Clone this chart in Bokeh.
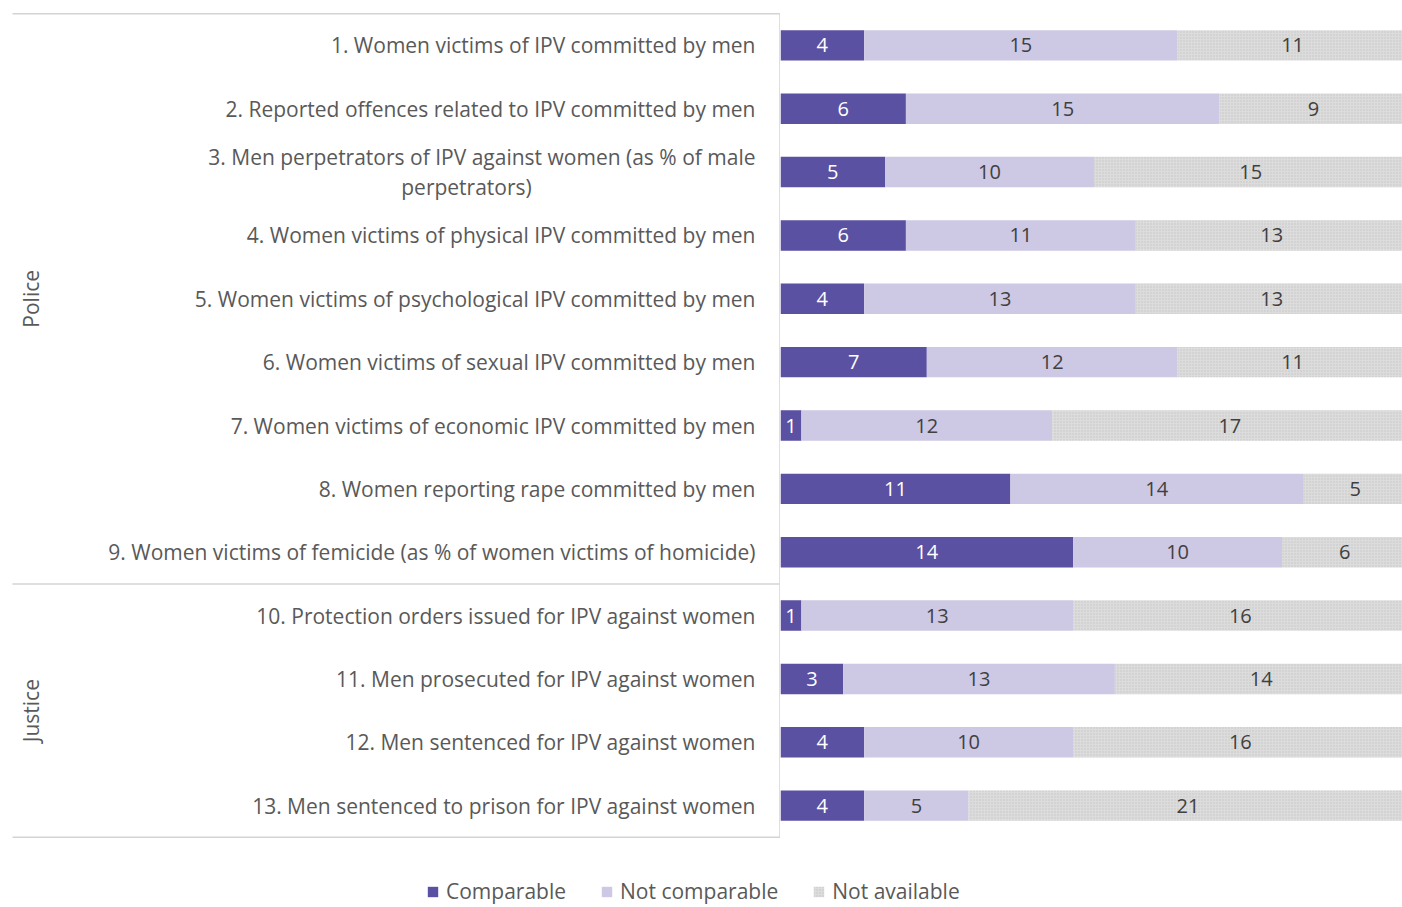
import math
from bokeh.plotting import figure
from bokeh.layouts import column, row
from bokeh.models import ColumnDataSource, Range1d, Legend, LegendItem
from bokeh.core.properties import value
from bokeh.embed import file_html
from bokeh.resources import INLINE

categories = [
    "1. Women victims of IPV committed by men",
    "2. Reported offences related to IPV committed by men",
    "3. Men perpetrators of IPV against women (as % of male\nperpetrators)",
    "4. Women victims of physical IPV committed by men",
    "5. Women victims of psychological IPV committed by men",
    "6. Women victims of sexual IPV committed by men",
    "7. Women victims of economic IPV committed by men",
    "8. Women reporting rape committed by men",
    "9. Women victims of femicide (as % of women victims of homicide)",
    "10. Protection orders issued for IPV against women",
    "11. Men prosecuted for IPV against women",
    "12. Men sentenced for IPV against women",
    "13. Men sentenced to prison for IPV against women",
]
group_names = ["Police", "Justice"]
group_sizes = [9, 4]
series_names = ["Comparable", "Not comparable", "Not available"]
comparable = [4, 6, 5, 6, 4, 7, 1, 11, 14, 1, 3, 4, 4]
not_comparable = [15, 15, 10, 11, 13, 12, 12, 14, 10, 13, 13, 10, 5]
not_available = [11, 9, 15, 13, 13, 11, 17, 5, 6, 16, 14, 16, 21]

colors = ["#5b51a2", "#cdc8e4", "#dcdcdc"]
label_colors = ["#ffffff", "#404040", "#404040"]
TXT = "#595959"
FONT = "Open Sans"
LBL_SIZE = "21px"

n = len(categories)
ys = [n - 0.5 - i for i in range(n)]
yr = Range1d(-0.05, n + 0.05)
H = 840
LW = 780

hatch = dict(hatch_pattern=".", hatch_color="#c6c6c6", hatch_scale=3, hatch_weight=1)

# ---------- right: bars ----------
p = figure(width=622, height=H, x_range=Range1d(0, 29.76), y_range=yr,
           output_backend="svg", toolbar_location=None,
           min_border_top=10, min_border_bottom=0, min_border_left=0, min_border_right=0)
p.xaxis.visible = False
p.yaxis.visible = False
p.grid.visible = False
p.outline_line_color = None

series = [comparable, not_comparable, not_available]
left = [0] * n
for k, vals in enumerate(series):
    right = [l + v for l, v in zip(left, vals)]
    src = ColumnDataSource(dict(y=ys, left=left, right=right,
                                xc=[(l + r) / 2 for l, r in zip(left, right)],
                                txt=[str(v) for v in vals]))
    kw = hatch if k == 2 else {}
    p.hbar(y="y", left="left", right="right", height=0.48, source=src,
           fill_color=colors[k], line_color=None, **kw)
    p.text(x="xc", y="y", text="txt", source=src, text_align="center",
           text_baseline="middle", text_font=value(FONT), text_font_size="20px",
           text_color=label_colors[k])
    left = right

# ---------- left: category labels ----------
q = figure(width=LW, height=H, x_range=Range1d(0, LW), y_range=yr,
           output_backend="svg", toolbar_location=None,
           min_border_top=10, min_border_bottom=0, min_border_left=0, min_border_right=0)
q.xaxis.visible = False
q.yaxis.visible = False
q.grid.visible = False
q.outline_line_color = None

txt_kw = dict(text_baseline="middle", text_font=value(FONT), text_font_size=LBL_SIZE,
              text_color=TXT)
single_x, single_y, single_t = [], [], []
for i, c in enumerate(categories):
    lines = c.split("\n")
    if len(lines) == 1:
        single_x.append(755); single_y.append(ys[i]); single_t.append(c)
    else:
        q.text(x=[755], y=[ys[i] + 0.235], text=[lines[0]], text_align="right", **txt_kw)
        q.text(x=[466], y=[ys[i] - 0.235], text=[lines[1]], text_align="center", **txt_kw)
q.text(x=single_x, y=single_y, text=single_t, text_align="right", **txt_kw)

# group separators and labels
bounds = [n]
for s in group_sizes:
    bounds.append(bounds[-1] - s)
q.segment(x0=[12] * len(bounds), y0=bounds, x1=[LW] * len(bounds), y1=bounds,
          line_color="#d4d4d4", line_width=1.5)
q.segment(x0=[LW - 0.5], y0=[0], x1=[LW - 0.5], y1=[n], line_color="#d4d4d4", line_width=1.5)
gy = [(bounds[j] + bounds[j + 1]) / 2 for j in range(len(group_names))]
q.text(x=[30] * len(group_names), y=gy, text=group_names, angle=math.pi / 2,
       text_align="center", **txt_kw)

# ---------- legend ----------
lf = figure(width=1402, height=67, x_range=Range1d(0, 1402), y_range=Range1d(0, 1),
            output_backend="svg", toolbar_location=None, min_border=0)
lf.xaxis.visible = False
lf.yaxis.visible = False
lf.grid.visible = False
lf.outline_line_color = None
items = []
for k, name in enumerate(series_names):
    kw = hatch if k == 2 else {}
    r = lf.hbar(y=[10], left=[5000], right=[5001], height=0.5,
                fill_color=colors[k], line_color=None, **kw)
    items.append(LegendItem(label=name, renderers=[r]))
legend = Legend(items=items, orientation="horizontal", location=(426, 2),
                glyph_width=13, glyph_height=13, label_standoff=7, spacing=34,
                padding=0, margin=0, border_line_color=None, background_fill_alpha=0,
                label_text_font=FONT, label_text_font_size=LBL_SIZE,
                label_text_color=TXT, label_height=20)
lf.add_layout(legend)

layout = column(row(q, p, spacing=0), lf, spacing=0)
open("out.html", "w").write(file_html(layout, INLINE))
